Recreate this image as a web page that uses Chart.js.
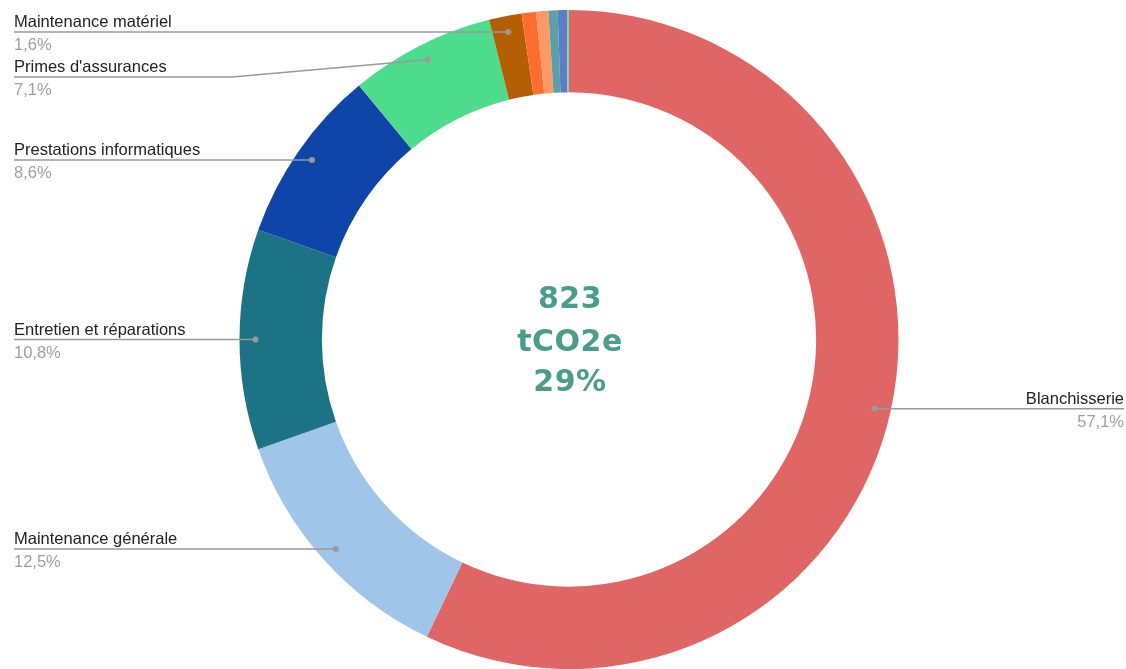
<!DOCTYPE html>
<html>
<head>
<meta charset="utf-8">
<script src="https://cdn.jsdelivr.net/npm/chart.js@4/dist/chart.umd.min.js"></script>
<style>
  html, body { margin: 0; padding: 0; background: #fff; }
  #wrap { width: 1126px; height: 669px; position: relative; }
</style>
</head>
<body>
<div id="wrap"><canvas id="c"></canvas></div>
<script>
// ---- Data ----
const categories = [
  "Blanchisserie",
  "Maintenance générale",
  "Entretien et réparations",
  "Prestations informatiques",
  "Primes d'assurances",
  "Maintenance matériel",
  "Autre 1",
  "Autre 2",
  "Autre 3",
  "Autre 4",
  "Autre 5"
];
const shares = [57.1, 12.5, 10.8, 8.6, 7.1, 1.6, 0.7, 0.6, 0.45, 0.45, 0.1];
const labelled = [true, true, true, true, true, true, false, false, false, false, false];
const sliceColors = ["#E06666", "#9FC5E8", "#1C7385", "#0F45A8", "#4CDC8C", "#B45F06",
                     "#FF6D2E", "#FF9966", "#5E9EA6", "#5B7EC8", "#7ED6A6"];
const centerLines = ["823", "tCO2e", "29%"];

const fmtPct = v => v.toFixed(1).replace('.', ',') + '%';

const leaderPlugin = {
  id: 'leaders',
  afterDraw(chart) {
    const ctx = chart.ctx;
    const meta = chart.getDatasetMeta(0);
    const left = [], right = [];
    meta.data.forEach((arc, i) => {
      if (!labelled[i]) return;
      const mid = (arc.startAngle + arc.endAngle) / 2;
      const r = arc.outerRadius - 16;
      const dx = arc.x + Math.cos(mid) * r;
      const dy = arc.y + Math.sin(mid) * r;
      const item = { i, dx, dy };
      (Math.cos(mid) < 0 ? left : right).push(item);
    });
    const gap = 45;
    [left, right].forEach(list => {
      list.sort((a, b) => a.dy - b.dy);
      let prev = -Infinity;
      list.forEach(it => { it.ly = Math.max(it.dy, prev + gap); prev = it.ly; });
    });
    ctx.save();
    ctx.strokeStyle = '#9a9a9a';
    ctx.lineWidth = 1.5;
    const drawDot = (x, y) => { ctx.beginPath(); ctx.arc(x, y, 3, 0, Math.PI * 2); ctx.fillStyle = '#9a9a9a'; ctx.fill(); };
    const font = '16.5px "Liberation Sans", Arial, sans-serif';
    left.forEach(it => {
      const xL = 14;
      ctx.beginPath();
      ctx.moveTo(xL, it.ly);
      if (Math.abs(it.ly - it.dy) > 0.5) {
        ctx.lineTo(232, it.ly);
      }
      ctx.lineTo(it.dx, it.dy);
      ctx.stroke();
      drawDot(it.dx, it.dy);
      ctx.font = font;
      ctx.textAlign = 'left';
      ctx.textBaseline = 'alphabetic';
      ctx.fillStyle = '#222222';
      ctx.fillText(categories[it.i], xL, it.ly - 5);
      ctx.fillStyle = '#9e9e9e';
      ctx.fillText(fmtPct(shares[it.i]), xL, it.ly + 18);
    });
    right.forEach(it => {
      const xR = 1124;
      ctx.beginPath();
      ctx.moveTo(it.dx, it.dy);
      ctx.lineTo(xR, it.ly);
      ctx.stroke();
      drawDot(it.dx, it.dy);
      ctx.font = font;
      ctx.textAlign = 'right';
      ctx.textBaseline = 'alphabetic';
      ctx.fillStyle = '#222222';
      ctx.fillText(categories[it.i], xR, it.ly - 5);
      ctx.fillStyle = '#9e9e9e';
      ctx.fillText(fmtPct(shares[it.i]), xR, it.ly + 18);
    });
    // center text
    const a0 = meta.data[0];
    ctx.font = 'bold 30px "DejaVu Sans", sans-serif';
    try { ctx.letterSpacing = '0.5px'; } catch (e) {}
    ctx.textAlign = 'center';
    ctx.textBaseline = 'alphabetic';
    ctx.fillStyle = '#4A9C8B';
    const offs = [-32, 11, 51];
    centerLines.forEach((t, k) => ctx.fillText(t, a0.x + 1, a0.y + offs[k]));
    ctx.restore();
  }
};

new Chart(document.getElementById('c'), {
  type: 'doughnut',
  data: {
    labels: categories,
    datasets: [{
      data: shares,
      backgroundColor: sliceColors,
      borderWidth: 0,
      hoverOffset: 0
    }]
  },
  options: {
    responsive: true,
    maintainAspectRatio: false,
    animation: false,
    cutout: '75%',
    layout: { padding: { left: 12, top: 10, right: 0, bottom: 0 } },
    plugins: { legend: { display: false }, tooltip: { enabled: false } }
  },
  plugins: [leaderPlugin]
});
</script>
</body>
</html>
